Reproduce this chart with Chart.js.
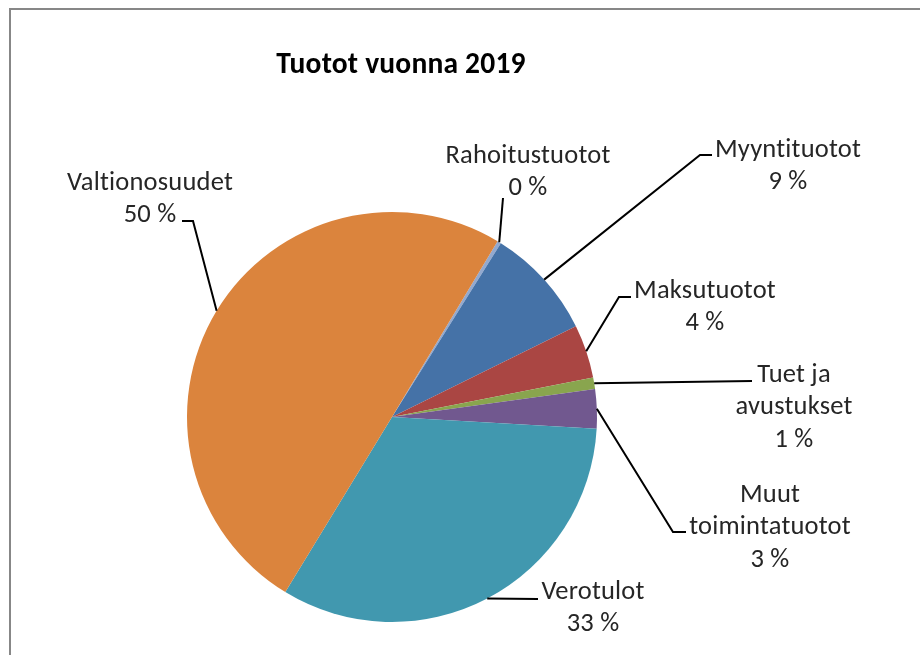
<!DOCTYPE html>
<html>
<head>
<meta charset="utf-8">
<script src="https://cdn.jsdelivr.net/npm/chart.js@4.4.1/dist/chart.umd.min.js"></script>
<style>
  html, body { margin: 0; padding: 0; background: #fff; overflow: hidden; }
  #wrap { width: 920px; height: 655px; }
</style>
</head>
<body>
<div id="wrap"><canvas id="tuotot" width="920" height="655"></canvas></div>
<script>
// data (share of income, %)
const categories = ["Rahoitustuotot", "Myyntituotot", "Maksutuotot", "Tuet ja avustukset", "Muut toimintatuotot", "Verotulot", "Valtionosuudet"];
const shares = [0.3, 8.8, 4.2, 0.9, 3.1, 32.8, 49.9];
const sliceColors = ["#93A9CF", "#4572A7", "#AA4643", "#89A54E", "#71588F", "#4198AF", "#DB843D"];
const chartTitle = "Tuotot vuonna 2019";

// where each data label sits, and the bend of its leader line
const labelSpots = [
  { x: 528, y: 163, bend: [503, 198], end: [503, 198] },
  { x: 788, y: 157, bend: [700, 155], end: [712, 155] },
  { x: 705, y: 298, bend: [619, 297], end: [631, 297] },
  { x: 794, y: 382, bend: [752, 381], end: [752, 381] },
  { x: 770, y: 502, bend: [673, 532], end: [686, 532] },
  { x: 593, y: 599, bend: [538, 599], end: [538, 599] },
  { x: 150, y: 190, bend: [193, 221], end: [182, 221] }
];

const fontFamily = "Calibri, Carlito, 'Liberation Sans', Arial, sans-serif";

function wrapWords(ctx, text, maxWidth) {
  const words = text.split(" ");
  const lines = [];
  let line = "";
  words.forEach(w => {
    const test = line ? line + " " + w : w;
    if (line && ctx.measureText(test).width > maxWidth) {
      lines.push(line);
      line = w;
    } else {
      line = test;
    }
  });
  if (line) lines.push(line);
  return lines;
}

const frameAndLabels = {
  id: "frameAndLabels",
  beforeDraw(chart) {
    const ctx = chart.ctx;
    ctx.save();
    ctx.fillStyle = "#fff";
    ctx.fillRect(0, 0, chart.width, chart.height);
    ctx.strokeStyle = "#878787";
    ctx.lineWidth = 2;
    ctx.strokeRect(10, 9, 1000, 1000);
    ctx.restore();
  },
  afterDatasetsDraw(chart) {
    const ctx = chart.ctx;
    const meta = chart.getDatasetMeta(0);
    const data = chart.data.datasets[0].data;
    const total = data.reduce((a, b) => a + b, 0);

    ctx.save();
    if ("letterSpacing" in ctx) ctx.letterSpacing = "0.2px";
    // title
    ctx.fillStyle = "#000";
    ctx.font = "bold 29.5px " + fontFamily;
    ctx.textAlign = "center";
    ctx.textBaseline = "alphabetic";
    ctx.fillText(chartTitle, 401, 73);

    ctx.font = "26.5px " + fontFamily;
    meta.data.forEach((arc, i) => {
      const p = arc.getProps(["x", "y", "startAngle", "endAngle", "outerRadius"], true);
      const mid = (p.startAngle + p.endAngle) / 2;
      const ax = p.x + Math.cos(mid) * p.outerRadius;
      const ay = p.y + Math.sin(mid) * p.outerRadius;
      const spot = labelSpots[i];

      ctx.strokeStyle = "#000";
      ctx.lineWidth = 2;
      ctx.beginPath();
      ctx.moveTo(ax, ay);
      ctx.lineTo(spot.bend[0], spot.bend[1]);
      ctx.lineTo(spot.end[0], spot.end[1]);
      ctx.stroke();

      const lines = wrapWords(ctx, chart.data.labels[i], 172);
      lines.push(Math.round(data[i] / total * 100) + " %");
      ctx.fillStyle = "#262626";
      lines.forEach((t, k) => {
        ctx.fillText(t, spot.x, spot.y + k * 32.3);
      });
    });
    ctx.restore();
  }
};

new Chart("tuotot", {
  type: "pie",
  data: {
    labels: categories,
    datasets: [{
      data: shares,
      backgroundColor: sliceColors,
      borderWidth: 0,
      offset: 0,
      hoverOffset: 0
    }]
  },
  options: {
    responsive: false,
    animation: false,
    events: [],
    rotation: 31,
    layout: {
      padding: { left: 187, right: 323, top: 212, bottom: 33 }
    },
    plugins: {
      legend: { display: false },
      title: { display: false },
      tooltip: { enabled: false }
    }
  },
  plugins: [frameAndLabels]
});
</script>
</body>
</html>
